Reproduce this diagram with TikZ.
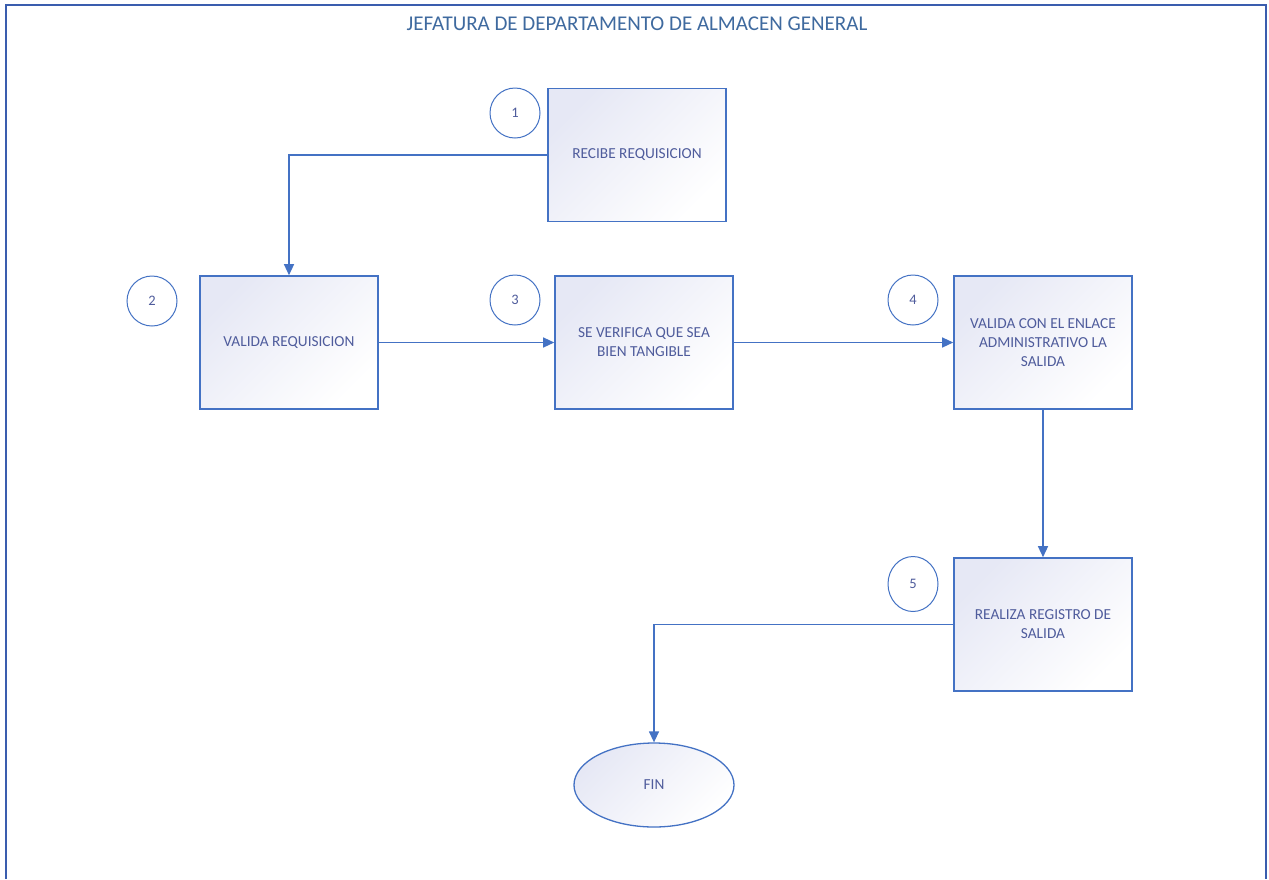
\documentclass[tikz,border=0pt]{standalone}
\usepackage{fontspec}
\setmainfont{Carlito}
\usetikzlibrary{arrows.meta,shapes.geometric}
\definecolor{edge}{HTML}{4472C4}
\definecolor{frameblue}{HTML}{3A5DAE}
\definecolor{txt}{HTML}{4F5C9C}
\definecolor{titletxt}{HTML}{3F6A9F}
\definecolor{tint}{HTML}{E6E8F5}
\tikzset{
  stepbox/.style={draw=edge, line width=1.6pt, minimum width=178pt, minimum height=133pt,
    inner sep=0pt, top color=tint, bottom color=white, shading angle=45,
    text=txt, font=\fontsize{15.3}{19}\selectfont, align=center},
  badge/.style={draw=edge, line width=1pt, fill=white, circle, minimum size=50pt,
    inner sep=0pt, text=txt, font=\fontsize{14.5}{16}\selectfont},
  flow/.style={draw=edge, line width=1.3pt, -{Triangle[length=11pt,width=10pt]}},
  endcap/.style={draw=edge, line width=1.3pt, ellipse, minimum width=160pt, minimum height=84pt,
    inner sep=0pt, top color=tint, bottom color=white, shading angle=45,
    text=txt, font=\fontsize{15.3}{16}\selectfont}
}
\begin{document}
\begin{tikzpicture}[x=1pt,y=-1pt]
\useasboundingbox (0,0) rectangle (1269,879);
\fill[white] (0,0) rectangle (1269,879);
% frame of the lane
\draw[frameblue, line width=1.5pt] (6,879) -- (6,5) -- (1266,5) -- (1266,879);
\node[text=titletxt, font=\fontsize{21}{24}\selectfont] (title) at (637,24) {JEFATURA DE DEPARTAMENTO DE ALMACEN GENERAL};

% process steps
\node[stepbox] (s1) at (637,155) {RECIBE REQUISICION};
\node[stepbox] (s2) at (289,342.5) {VALIDA REQUISICION};
\node[stepbox] (s3) at (644,342.5) {SE VERIFICA QUE SEA\\BIEN TANGIBLE};
\node[stepbox] (s4) at (1043,342.5) {VALIDA CON EL ENLACE\\ADMINISTRATIVO LA\\SALIDA};
\node[stepbox] (s5) at (1043,624.5) {REALIZA REGISTRO DE\\SALIDA};
\node[endcap] (fin) at (654,785) {FIN};

% step numbers
\node[badge] (n1) at (515,113) {1};
\node[badge] (n2) at (152,301) {2};
\node[badge] (n3) at (515,300) {3};
\node[badge] (n4) at (913,300) {4};
\node[badge, circle=false, ellipse, minimum width=50pt, minimum height=55pt] (n5) at (913,584) {5};

% connectors
\draw[flow] (s1.west) -| (s2.north);
\draw[flow] (s2.east) -- (s3.west);
\draw[flow] (s3.east) -- (s4.west);
\draw[flow] (s4.south) -- (s5.north);
\draw[flow] (s5.west) -| (fin.north);
\end{tikzpicture}
\end{document}
